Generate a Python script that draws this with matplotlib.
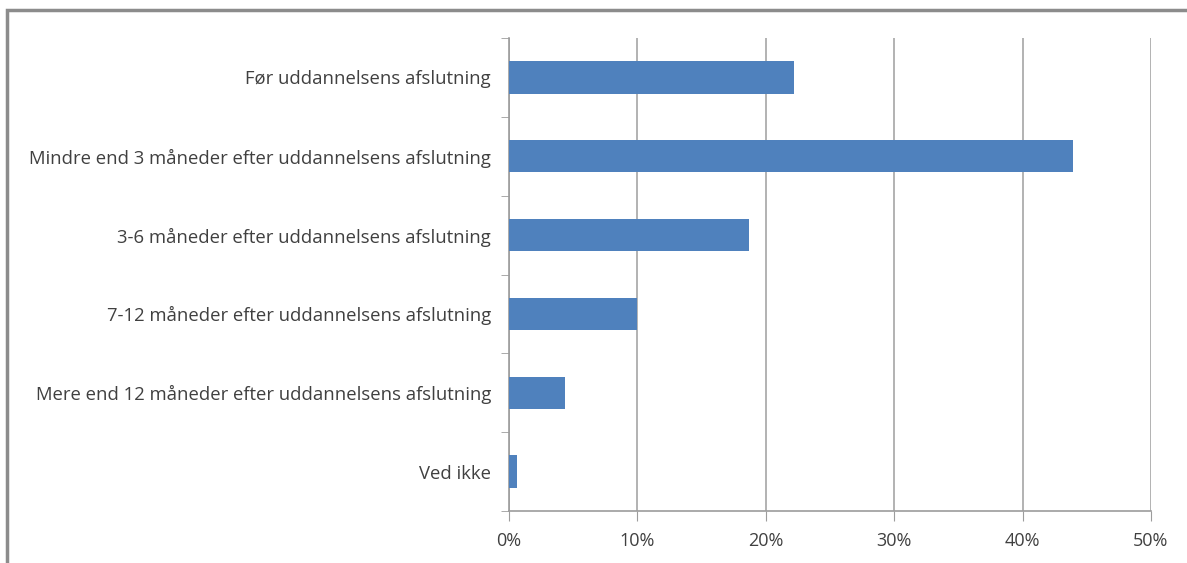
import matplotlib
matplotlib.use('Agg')
import matplotlib.pyplot as plt
from matplotlib.patches import Rectangle

categories = [
    'Før uddannelsens afslutning',
    'Mindre end 3 måneder efter uddannelsens afslutning',
    '3-6 måneder efter uddannelsens afslutning',
    '7-12 måneder efter uddannelsens afslutning',
    'Mere end 12 måneder efter uddannelsens afslutning',
    'Ved ikke',
]
values = [22.2, 43.9, 18.7, 10.0, 4.4, 0.6]
x_ticks = [0, 10, 20, 30, 40, 50]
x_labels = ['0%', '10%', '20%', '30%', '40%', '50%']

plt.rcParams['font.family'] = ['Open Sans', 'DejaVu Sans']

W, H = 1187, 563
fig = plt.figure(figsize=(W / 100, H / 100), dpi=100)
ax = fig.add_axes([509 / W, 1 - 511 / H, (1151 - 509) / W, (511 - 38) / H])

# Outer frame (only left and top visible in the reference)
fig.patches.append(Rectangle((7 / W, -0.1), 1.2, 1 - 10 / H + 0.1, transform=fig.transFigure,
                             fill=False, edgecolor='#8c8c8c', linewidth=2.5))

y = list(range(len(categories)))
ax.barh(y, values, height=0.41, color='#4f81bd', zorder=3)
ax.set_ylim(len(categories) - 0.5, -0.5)
ax.set_xlim(0, 50)

ax.set_xticks(x_ticks)
ax.set_xticklabels(x_labels, fontsize=13, color='#404040')
ax.set_yticks(y)
ax.set_yticklabels(categories, fontsize=13.3, color='#404040')
ax.tick_params(axis='y', length=0, pad=13)
ax.set_yticks([i - 0.5 for i in range(len(categories) + 1)], minor=True)
ax.tick_params(axis='y', which='minor', length=6, color='#9c9c9c')
ax.tick_params(axis='x', length=7, color='#9c9c9c', pad=8)

ax.grid(axis='x', color='#a6a6a6', linewidth=1.2, zorder=0)
for side in ['top', 'right']:
    ax.spines[side].set_visible(False)
for side in ['left', 'bottom']:
    ax.spines[side].set_color('#9c9c9c')
    ax.spines[side].set_linewidth(1.2)

fig.savefig('out.png', dpi=100)
